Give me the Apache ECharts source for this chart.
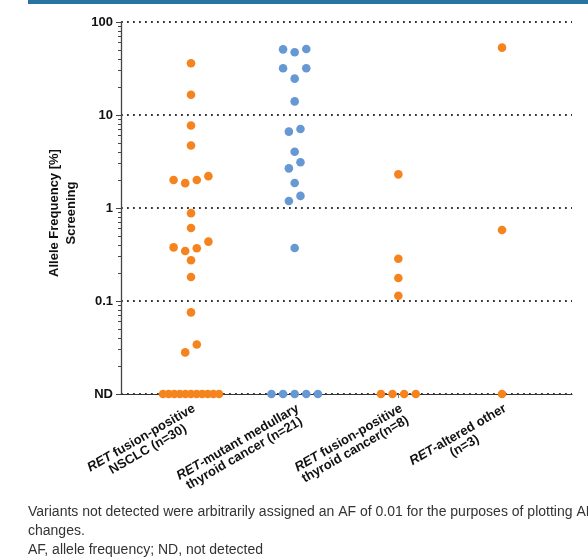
<!DOCTYPE html>
<html>
<head>
<meta charset="utf-8">
<script src="https://cdn.jsdelivr.net/npm/echarts@6/dist/echarts.min.js"></script>
<style>
  html, body { margin: 0; padding: 0; background: #fff; }
  #main { width: 588px; height: 557px; }
</style>
</head>
<body>
<div id="main"></div>
<script>
// allele frequency [%] per patient; ND plotted as 0.01
const nsclcAF = [36, 16.5, 7.7, 4.7, 2.2, 2.0, 2.0, 1.85, 0.88, 0.61, 0.435, 0.377, 0.369, 0.345, 0.274, 0.181, 0.0755, 0.034, 0.028,
    0.01, 0.01, 0.01, 0.01, 0.01, 0.01, 0.01, 0.01, 0.01, 0.01, 0.01];
const medullaryAF = [51.3, 50.8, 47.2, 31.8, 31.8, 24.6, 14.0, 7.06, 6.62, 4.03, 3.10, 2.67, 1.86, 1.35, 1.19, 0.371,
    0.01, 0.01, 0.01, 0.01, 0.01];
const thyroidFusionAF = [2.3, 0.285, 0.177, 0.114, 0.01, 0.01, 0.01, 0.01];
const otherAF = [53, 0.58, 0.01];

const categories = [
    '{i|RET}{b| fusion-positive}\n{b|NSCLC (n=30)}',
    '{i|RET}{b|-mutant medullary}\n{b|thyroid cancer (n=21)}',
    '{i|RET}{b| fusion-positive}\n{b|thyroid cancer(n=8)}',
    '{i|RET}{b|-altered other}\n{b|(n=3)}'
];
const yTickValues = [0.01, 0.1, 1, 10, 100];
const yTickLabels = ['ND', '0.1', '1', '10', '100'];
const minorTickValues = [];
[0.01, 0.1, 1, 10].forEach(d => {
    for (let k = 2; k <= 9; k++) minorTickValues.push(k * d);
});
const footnotes = [
    'Variants not detected were arbitrarily assigned an AF of 0.01 for the purposes of plotting AF',
    'changes.',
    'AF, allele frequency; ND, not detected'
];

const ORANGE = '#F5841F';
const BLUE = '#6699D3';
const FONT = '"Liberation Sans", Arial, sans-serif';
const DOT_STEP = 11.6;   // px between dots in a row
const MAX_SPREAD = 56;   // widest row, px
const ROW_GAP = 10.5;    // px, points closer than this share a row

const groups = [nsclcAF, medullaryAF, thyroidFusionAF, otherAF];
const colors = [ORANGE, BLUE, ORANGE, ORANGE];

const chart = echarts.init(document.getElementById('main'));

const option = {
    animation: false,
    backgroundColor: '#fff',
    textStyle: { fontFamily: FONT },
    grid: { left: 121, right: 16, top: 22, bottom: 163, outerBoundsMode: 'none' },
    graphic: [
        { type: 'rect', left: 28, top: 0, shape: { width: 560, height: 4 }, style: { fill: '#28739F' } }
    ].concat(footnotes.map((t, i) => ({
        type: 'text', left: 28, top: 505 + i * 19,
        style: { text: t, font: '14px ' + FONT, fill: '#333' }
    }))),
    xAxis: {
        type: 'value', min: 0.3248, max: 4.675, z: 1,
        splitLine: { show: false },
        axisLine: { show: true, onZero: false, lineStyle: { color: '#333', width: 1.2 } },
        axisTick: { show: true, customValues: [1, 2, 3, 4], length: 4, lineStyle: { color: '#777' } },
        axisLabel: {
            customValues: [1, 2, 3, 4],
            formatter: v => categories[Math.round(v) - 1],
            rotate: 30, align: 'right', verticalAlign: 'top', margin: 8,
            rich: {
                i: { fontStyle: 'italic', fontWeight: 'bold', fontSize: 13, color: '#111', align: 'center', fontFamily: FONT },
                b: { fontWeight: 'bold', fontSize: 13, color: '#111', align: 'center', fontFamily: FONT }
            }
        }
    },
    yAxis: [{
        type: 'value', min: -2, max: 2, interval: 1, z: 0,
        name: 'Allele Frequency [%]\nScreening',
        nameLocation: 'middle', nameGap: 41,
        nameTextStyle: { fontWeight: 'bold', fontSize: 13, color: '#111', lineHeight: 17, padding: [0, 10, 0, 0] },
        axisLine: { show: true, lineStyle: { color: '#444', width: 1.3 } },
        axisTick: { show: true, length: 5, lineStyle: { color: '#444' } },
        axisLabel: {
            margin: 8, fontWeight: 'bold', fontSize: 13, color: '#111',
            formatter: v => yTickLabels[yTickValues.findIndex(t => Math.abs(Math.log10(t) - v) < 1e-6)]
        },
        splitLine: { show: true, lineStyle: { color: '#333', width: 1.8, type: [1.8, 4.2] } }
    }, {
        type: 'value', min: -2, max: 2, position: 'left', z: 0,
        axisLine: { show: false },
        axisLabel: { show: false },
        splitLine: { show: false },
        axisTick: { show: true, length: 3, customValues: minorTickValues.map(v => Math.log10(v)), lineStyle: { color: '#444' } }
    }],
    series: groups.map((g, i) => ({
        type: 'scatter', symbol: 'circle', symbolSize: 8.6, z: 3,
        itemStyle: { color: colors[i], opacity: 1 },
        data: []
    }))
};
chart.setOption(option);

// lay the dots out as a swarm: rows of nearby points, centred on the category
function swarm(values, catIndex) {
    const cx = chart.convertToPixel({ xAxisIndex: 0 }, catIndex + 1);
    const pts = values.map(v => ({ v: v, py: chart.convertToPixel({ yAxisIndex: 0 }, Math.log10(v)) }));
    pts.sort((a, b) => a.py - b.py);
    const rows = [];
    pts.forEach(p => {
        const row = rows[rows.length - 1];
        if (row && p.py - row[0].py < ROW_GAP) row.push(p);
        else rows.push([p]);
    });
    const out = [];
    rows.forEach(row => {
        const n = row.length;
        const step = n > 1 ? Math.min(DOT_STEP, MAX_SPREAD / (n - 1)) : 0;
        const order = [];
        for (let lo = 0, hi = n - 1; lo <= hi;) {
            order.push(hi--);
            if (lo <= hi) order.push(lo++);
        }
        row.forEach((p, k) => {
            const px = cx + (order[k] - (n - 1) / 2) * step;
            out.push([chart.convertFromPixel({ xAxisIndex: 0 }, px), Math.log10(p.v)]);
        });
    });
    return out;
}

chart.setOption({
    series: groups.map((g, i) => ({ data: swarm(g, i) }))
});
</script>
</body>
</html>
